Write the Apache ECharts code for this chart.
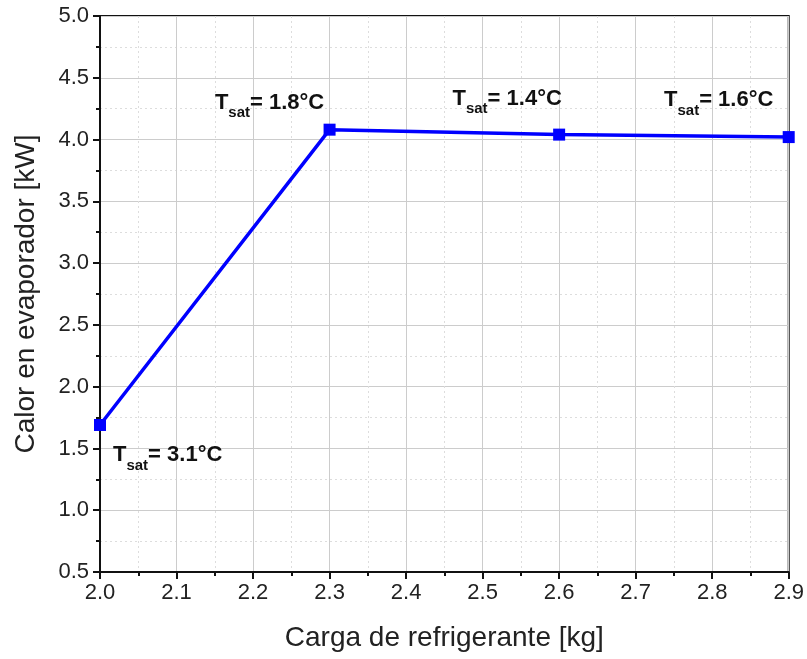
<!DOCTYPE html>
<html>
<head>
<meta charset="utf-8">
<script src="https://cdn.jsdelivr.net/npm/echarts@6/dist/echarts.min.js"></script>
<style>
  html, body { margin: 0; padding: 0; background: #fff; }
  #chart { width: 807px; height: 659px; }
</style>
</head>
<body>
<div id="chart"></div>
<script>
// Refrigerant charge vs. evaporator heat
const charge = [2.0, 2.3, 2.6, 2.9];           // kg
const heat = [1.69, 4.08, 4.04, 4.02];         // kW
const tsat = ['3.1', '1.8', '1.4', '1.6'];     // saturation temperature, °C

const xTicks = { min: 2.0, max: 2.9, interval: 0.1 };
const yTicks = { min: 0.5, max: 5.0, interval: 0.5 };

// where each annotation sits relative to its marker
const labelPlacement = [
  { align: 'left', offset: [13, 28] },
  { align: 'center', offset: [-60, -29] },
  { align: 'center', offset: [-52, -38] },
  { align: 'center', offset: [-70, -39] }
];

const FONT = '"Liberation Sans", Arial, Helvetica, sans-serif';

const points = charge.map((c, i) => ({
  value: [c, heat[i]],
  label: {
    show: true,
    position: 'inside',
    align: labelPlacement[i].align,
    verticalAlign: 'middle',
    offset: labelPlacement[i].offset,
    formatter: '{t|T}{s|sat}{v|= ' + tsat[i] + '°C}',
    rich: {
      t: { fontFamily: FONT, fontWeight: 'bold', fontSize: 22, color: '#111', lineHeight: 26, verticalAlign: 'bottom' },
      s: { fontFamily: FONT, fontWeight: 'bold', fontSize: 15, color: '#111', lineHeight: 26, verticalAlign: 'bottom', padding: [0, 0, -7, 0] },
      v: { fontFamily: FONT, fontWeight: 'bold', fontSize: 22, color: '#111', lineHeight: 26, verticalAlign: 'bottom' }
    }
  }
}));

const axisCommon = {
  axisLine: { show: true, onZero: false, lineStyle: { color: '#111', width: 2 } },
  axisTick: { show: true, inside: false, length: 7, lineStyle: { color: '#111', width: 2 } },
  minorTick: { show: true, splitNumber: 2, length: 4, lineStyle: { color: '#111', width: 2 } },
  splitLine: { show: true, lineStyle: { color: '#cccccc', width: 1 } },
  minorSplitLine: { show: true, lineStyle: { color: '#dddddd', width: 1, type: [2, 3] } },
  axisLabel: { fontFamily: FONT, fontSize: 22, color: '#222', formatter: v => v.toFixed(1) },
  nameTextStyle: { fontFamily: FONT, fontSize: 28, color: '#222' }
};

const chart = echarts.init(document.getElementById('chart'), null, { renderer: 'canvas' });
chart.setOption({
  animation: false,
  backgroundColor: '#fff',
  grid: {
    left: 100, right: 18, top: 16, bottom: 87,
    show: true, borderColor: '#111', borderWidth: 2, backgroundColor: 'transparent'
  },
  xAxis: Object.assign({}, axisCommon, {
    type: 'value',
    min: xTicks.min, max: xTicks.max, interval: xTicks.interval,
    name: 'Carga de refrigerante [kg]',
    nameLocation: 'middle', nameGap: 52,
    axisLabel: Object.assign({}, axisCommon.axisLabel, { margin: 10 })
  }),
  yAxis: Object.assign({}, axisCommon, {
    type: 'value',
    min: yTicks.min, max: yTicks.max, interval: yTicks.interval,
    name: 'Calor en evaporador [kW]',
    nameLocation: 'middle', nameGap: 60, nameRotate: 90,
    axisLabel: Object.assign({}, axisCommon.axisLabel, { margin: 11 })
  }),
  series: [{
    type: 'line',
    data: points,
    symbol: 'rect',
    symbolSize: 12,
    showAllSymbol: true,
    lineStyle: { color: '#0000ff', width: 3.5 },
    itemStyle: { color: '#0000ff' },
    z: 5
  }]
});
</script>
</body>
</html>
